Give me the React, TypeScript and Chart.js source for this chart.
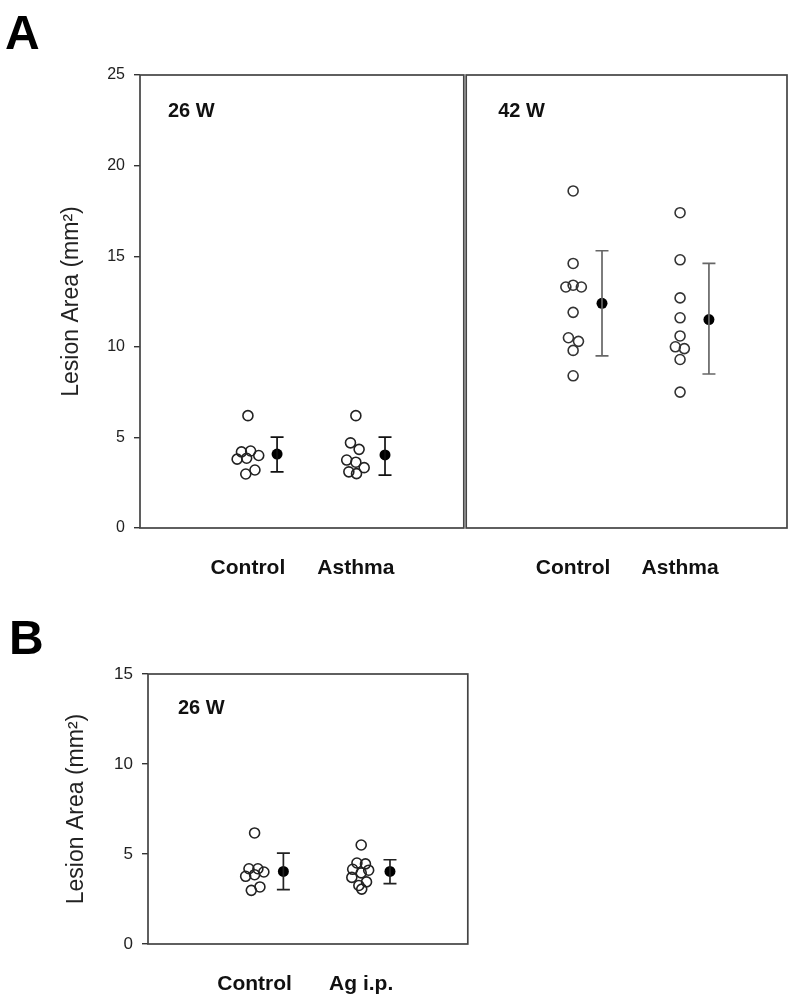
import React, { useEffect, useRef } from 'react';
import { Chart, registerables } from 'chart.js';
Chart.register(...registerables);

const FONT = '"Liberation Sans", Arial, Helvetica, sans-serif';

// ---- categories & ticks ----
const groupsA = ['Control', 'Asthma'];
const groupsB = ['Control', 'Ag i.p.'];
const yTicksA = [0, 5, 10, 15, 20, 25];
const yTicksB = [0, 5, 10, 15];
const yTitle = 'Lesion Area (mm²)';

// ---- Panel A, 26 W ----
const a26Control = [6.2, 4.2, 4.25, 3.8, 3.85, 4.0, 3.2, 2.98];
const a26ControlJitter = [0, -0.06, 0.025, -0.1, -0.012, 0.1, 0.065, -0.02];
const a26Asthma = [6.2, 4.7, 4.34, 3.75, 3.63, 3.33, 3.1, 3.0];
const a26AsthmaJitter = [0, -0.05, 0.03, -0.085, 0, 0.077, -0.065, 0.006];
const a26Mean = [4.08, 4.03];
const a26Upper = [5.02, 5.02];
const a26Lower = [3.1, 2.92];

// ---- Panel A, 42 W ----
const a42Control = [18.6, 14.6, 13.3, 13.4, 13.3, 11.9, 10.5, 10.3, 9.8, 8.4];
const a42ControlJitter = [0, 0, -0.068, 0, 0.077, 0, -0.044, 0.05, 0, 0];
const a42Asthma = [17.4, 14.8, 12.7, 11.6, 10.6, 10.0, 9.9, 9.3, 7.5];
const a42AsthmaJitter = [0, 0, 0, 0, 0, -0.044, 0.04, 0, 0];
const a42Mean = [12.4, 11.5];
const a42Upper = [15.3, 14.6];
const a42Lower = [9.5, 8.5];

// ---- Panel B, 26 W ----
const b26Control = [6.17, 4.18, 4.18, 3.76, 3.85, 4.0, 3.17, 2.98];
const b26ControlJitter = [0, -0.053, 0.031, -0.084, 0, 0.087, 0.05, -0.031];
const b26Ag = [5.5, 4.5, 4.45, 4.15, 4.1, 3.95, 3.7, 3.45, 3.25, 3.05];
const b26AgJitter = [0, -0.04, 0.04, -0.08, 0.07, 0, -0.088, 0.05, -0.022, 0.005];
const b26Mean = [4.03, 4.03];
const b26Upper = [5.05, 4.68];
const b26Lower = [3.02, 3.35];

const GROUP_X = [1, 2];
const MEAN_OFFSET = 0.27;

type PanelProps = {
  left: number; top: number; width: number; height: number;
  pad: { top: number; right: number; left: number; bottom: number };
  yWidth: number | null; xHeight: number;
  yMax: number; yTicks: number[]; groups: string[];
  dots: number[][]; jitter: number[][];
  mean: number[]; upper: number[]; lower: number[];
  label: string; labelDx: number; labelDy: number;
  errColor: string; dotColor: string;
  tickSize: number; titlePad: number; titleSize: number;
};

function Panel(p: PanelProps) {
  const ref = useRef<HTMLCanvasElement | null>(null);
  useEffect(() => {
    if (!ref.current) return;
    const datasets: any[] = [];
    p.dots.forEach((vals, g) => {
      datasets.push({
        type: 'scatter',
        data: vals.map((v, i) => ({ x: GROUP_X[g] + p.jitter[g][i], y: v })),
        pointRadius: 5,
        pointBorderWidth: 1.6,
        pointBorderColor: p.dotColor,
        pointBackgroundColor: 'rgba(255,255,255,0)',
        showLine: false,
      });
    });
    p.mean.forEach((m, g) => {
      datasets.push({
        type: 'scatter',
        data: [
          { x: GROUP_X[g] + MEAN_OFFSET, y: p.lower[g] },
          { x: GROUP_X[g] + MEAN_OFFSET, y: p.upper[g] },
        ],
        showLine: true,
        borderColor: p.errColor,
        borderWidth: 1.7,
        pointStyle: 'line',
        pointRadius: 6.5,
        pointBorderWidth: 1.7,
        pointBorderColor: p.errColor,
      });
      datasets.push({
        type: 'scatter',
        data: [{ x: GROUP_X[g] + MEAN_OFFSET, y: m }],
        pointRadius: 5.5,
        pointBorderWidth: 0,
        pointBackgroundColor: '#000',
        pointBorderColor: '#000',
      });
    });

    const boxPlugin = {
      id: 'box',
      afterDraw(chart: any) {
        const { ctx, chartArea: a } = chart;
        ctx.save();
        ctx.strokeStyle = '#444';
        ctx.lineWidth = 1.7;
        ctx.strokeRect(a.left, a.top, a.right - a.left, a.bottom - a.top);
        ctx.fillStyle = '#111';
        ctx.font = `bold 20px ${FONT}`;
        ctx.textBaseline = 'alphabetic';
        ctx.textAlign = 'left';
        ctx.fillText(p.label, a.left + p.labelDx, a.top + p.labelDy);
        ctx.restore();
      },
    };

    const chart = new Chart(ref.current, {
      type: 'scatter',
      data: { datasets },
      options: {
        responsive: false,
        animation: false,
        layout: { padding: p.pad },
        plugins: { legend: { display: false }, tooltip: { enabled: false } },
        scales: {
          x: {
            type: 'linear',
            min: 0,
            max: 3,
            afterBuildTicks: (s: any) => { s.ticks = GROUP_X.map((v) => ({ value: v })); },
            afterFit: (s: any) => { s.height = p.xHeight; },
            grid: { display: false },
            border: { display: false },
            ticks: {
              padding: 20,
              color: '#111',
              font: { family: FONT, size: 21, weight: 'bold' },
              callback: (v: any) => p.groups[GROUP_X.indexOf(Number(v))] ?? '',
              maxRotation: 0,
              autoSkip: false,
            },
          },
          y: {
            type: 'linear',
            min: 0,
            max: p.yMax,
            display: p.yWidth !== null,
            afterBuildTicks: (s: any) => { s.ticks = p.yTicks.map((v) => ({ value: v })); },
            afterFit: (s: any) => { if (p.yWidth !== null) s.width = p.yWidth; },
            grid: {
              drawOnChartArea: false,
              drawTicks: true,
              tickLength: 6,
              color: '#333',
              lineWidth: 1.4,
            },
            border: { display: false },
            ticks: {
              padding: 9,
              color: '#222',
              font: { family: FONT, size: p.tickSize },
            },
            title: {
              display: true,
              text: yTitle,
              color: '#222',
              font: { family: FONT, size: p.titleSize },
              padding: { top: p.titlePad, bottom: 0 },
            },
          },
        },
      },
      plugins: [boxPlugin],
    } as any);
    return () => chart.destroy();
  }, []);
  return (
    <div style={{ position: 'absolute', left: p.left, top: p.top, width: p.width, height: p.height }}>
      <canvas ref={ref} width={p.width} height={p.height} style={{ display: 'block' }} />
    </div>
  );
}

const bigLabel: React.CSSProperties = {
  position: 'absolute',
  fontFamily: FONT,
  fontWeight: 'bold',
  fontSize: 48,
  lineHeight: '48px',
  color: '#000',
  margin: 0,
};

export default function App() {
  return (
    <div style={{ position: 'relative', width: 800, height: 1001 }}>
      <div style={{ ...bigLabel, position: 'fixed', left: 5, top: 9 }}>A</div>
      <div style={{ ...bigLabel, position: 'fixed', left: 9, top: 614 }}>B</div>
      <div style={{ position: 'fixed', left: 0, top: 0, width: 800, height: 1001 }}>
        <Panel
          left={0} top={55} width={472} height={545}
          pad={{ top: 20, right: 7, left: 0, bottom: 0 }}
          yWidth={140} xHeight={72} yMax={25} yTicks={yTicksA} groups={groupsA}
          dots={[a26Control, a26Asthma]} jitter={[a26ControlJitter, a26AsthmaJitter]}
          mean={a26Mean} upper={a26Upper} lower={a26Lower}
          label="26 W" labelDx={28} labelDy={42}
          errColor="#111" dotColor="#222"
          tickSize={16} titlePad={58} titleSize={23}
        />
        <Panel
          left={458} top={55} width={342} height={545}
          pad={{ top: 20, right: 13, left: 7, bottom: 0 }}
          yWidth={null} xHeight={72} yMax={25} yTicks={yTicksA} groups={groupsA}
          dots={[a42Control, a42Asthma]} jitter={[a42ControlJitter, a42AsthmaJitter]}
          mean={a42Mean} upper={a42Upper} lower={a42Lower}
          label="42 W" labelDx={32} labelDy={42}
          errColor="#666" dotColor="#333"
          tickSize={16} titlePad={58} titleSize={23}
        />
        <Panel
          left={0} top={650} width={476} height={351}
          pad={{ top: 24, right: 8, left: 0, bottom: 0 }}
          yWidth={148} xHeight={57} yMax={15} yTicks={yTicksB} groups={groupsB}
          dots={[b26Control, b26Ag]} jitter={[b26ControlJitter, b26AgJitter]}
          mean={b26Mean} upper={b26Upper} lower={b26Lower}
          label="26 W" labelDx={30} labelDy={40}
          errColor="#222" dotColor="#222"
          tickSize={17} titlePad={63} titleSize={23}
        />
      </div>
    </div>
  );
}
